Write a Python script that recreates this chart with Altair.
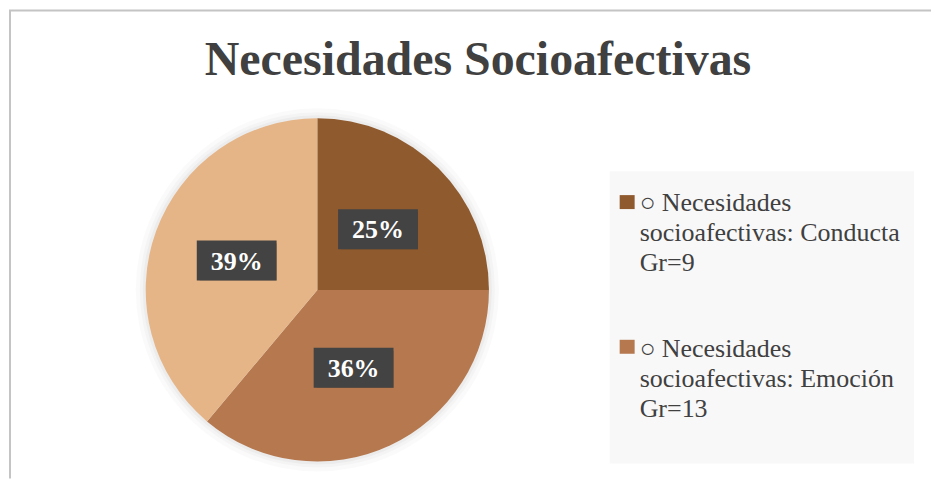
import altair as alt
import pandas as pd

# ---- data ----
categories = [
    "○ Necesidades socioafectivas: Conducta Gr=9",
    "○ Necesidades socioafectivas: Emoción Gr=13",
    "○ Necesidades socioafectivas: Relación Gr=14",
]
counts = [9, 13, 14]
colors = ["#8F5A2E", "#B5784F", "#E5B587"]
legend_lines = [
    ["○ Necesidades", "socioafectivas: Conducta", "Gr=9"],
    ["○ Necesidades", "socioafectivas: Emoción", "Gr=13"],
]
title_text = "Necesidades Socioafectivas"

# ---- layout ----
W, H = 924, 471
CX, CY, R = 309, 282, 172
LR = 86  # label radius

df = pd.DataFrame({"cat": categories, "n": counts, "idx": list(range(len(categories)))})
leg_df = pd.DataFrame({
    "cat": categories[:len(legend_lines)],
    "lab": ["\n".join(l) for l in legend_lines],
    "idx": list(range(len(legend_lines))),
})
one = pd.DataFrame({"k": [0]})

xs = alt.Scale(domain=[0, W], range=[0, W], nice=False, zero=False)
ys = alt.Scale(domain=[0, H], range=[0, H], nice=False, zero=False)
cscale = alt.Scale(domain=categories, range=colors)

FONT = "Liberation Serif"

# borders
top_line = alt.Chart(one).mark_rule(color="#c4c4c4", strokeWidth=2).encode(
    x=alt.value(0), x2=alt.value(W), y=alt.value(2))
left_line = alt.Chart(one).mark_rule(color="#c4c4c4", strokeWidth=2).encode(
    x=alt.value(1), y=alt.value(2), y2=alt.value(H))

# title
title = alt.Chart(one).mark_text(
    text=title_text, font=FONT, fontWeight="bold", fontSize=48, color="#404040",
    align="center", baseline="alphabetic").encode(x=alt.value(470), y=alt.value(67))

# halo around the pie
halos = [
    alt.Chart(one).mark_arc(radius=R + rr, theta=0, theta2=6.2832, color="black", opacity=op)
    .encode(x=alt.value(CX), y=alt.value(CY))
    for rr, op in [(10, 0.02), (6, 0.025), (3, 0.03)]
]

pie = alt.Chart(df).mark_arc(radius=R).encode(
    theta=alt.Theta("n:Q", stack=True),
    color=alt.Color("cat:N", scale=cscale, legend=None),
    order=alt.Order("idx:Q"),
    x=alt.value(CX), y=alt.value(CY),
)

lab = alt.Chart(df).transform_joinaggregate(total="sum(n)").transform_window(
    cum="sum(n)", sort=[alt.SortField("idx")], frame=[None, 0]
).transform_calculate(
    mid="(datum.cum - datum.n/2) / datum.total * 2 * PI",
    bx=f"{CX} + {LR} * sin(datum.mid)",
    by=f"{CY} - {LR} * cos(datum.mid)",
    x1="datum.bx - 40", x2="datum.bx + 40",
    y1="datum.by - 20", y2="datum.by + 20",
    pct="format(datum.n / datum.total, '.0%')",
)

box_enc = dict(
    x=alt.X("x1:Q", scale=xs, axis=None), x2="x2:Q",
    y=alt.Y("y1:Q", scale=ys, axis=None), y2="y2:Q",
)
shadow = lab.mark_rect(color="black", opacity=0.28, xOffset=3, yOffset=3).encode(**box_enc)
box = lab.mark_rect(color="#434343").encode(**box_enc)
txt = lab.mark_text(font=FONT, fontWeight="bold", fontSize=26, color="white",
                    align="center", baseline="middle", dy=1).encode(
    x=alt.X("bx:Q", scale=xs, axis=None),
    y=alt.Y("by:Q", scale=ys, axis=None),
    text="pct:N",
)

# legend
leg_bg = alt.Chart(one).mark_rect(color="#f8f8f8").encode(
    x=alt.value(602), x2=alt.value(907), y=alt.value(163), y2=alt.value(456))
leg_base = alt.Chart(leg_df).transform_calculate(
    sy1="187 + datum.idx * 145", sy2="201 + datum.idx * 145",
    ty="203 + datum.idx * 146",
)
leg_sq = leg_base.mark_rect().encode(
    x=alt.value(612), x2=alt.value(627),
    y=alt.Y("sy1:Q", scale=ys, axis=None), y2="sy2:Q",
    color=alt.Color("cat:N", scale=cscale, legend=None),
)
leg_txt = leg_base.mark_text(font=FONT, fontSize=26, color="#404040", align="left",
                             baseline="alphabetic", lineBreak="\n", lineHeight=30).encode(
    x=alt.value(632),
    y=alt.Y("ty:Q", scale=ys, axis=None),
    text="lab:N",
)

chart = alt.layer(
    top_line, left_line, title, *halos, pie, shadow, box, txt, leg_bg, leg_sq, leg_txt
).properties(width=W, height=H, padding=0, background="white").configure_view(strokeWidth=0)

chart.save("out.html", embed_options={"renderer": "svg", "actions": False})
